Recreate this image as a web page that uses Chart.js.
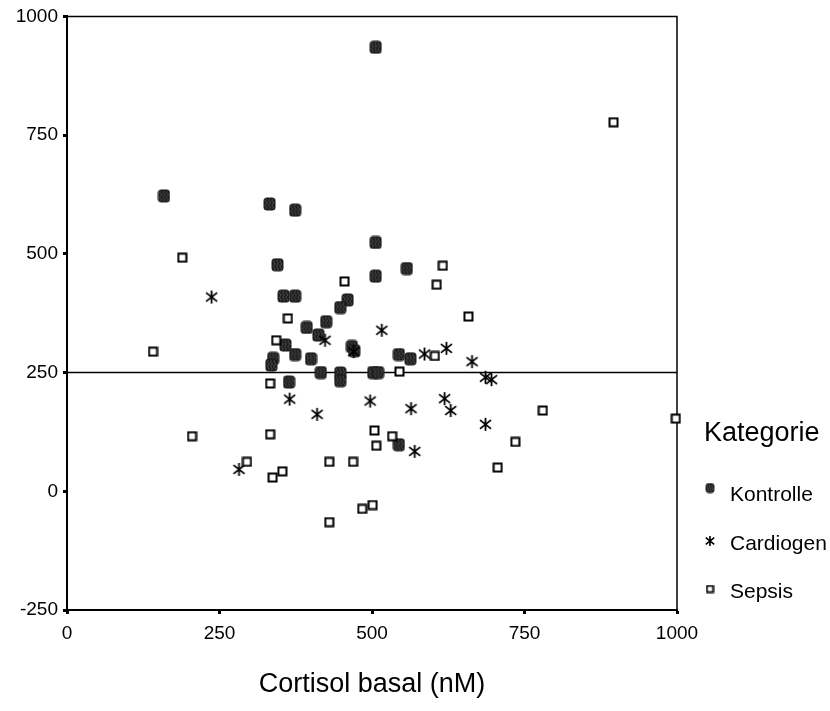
<!DOCTYPE html>
<html lang="de">
<head>
<meta charset="UTF-8">
<script src="https://cdn.jsdelivr.net/npm/chart.js"></script>
<title>Cortisol basal</title>
<style>
  html, body { margin: 0; padding: 0; background: #fff; }
  #wrap { width: 830px; height: 711px; }
</style>
</head>
<body>
<div id="wrap"><canvas id="chart" width="830" height="711"></canvas></div>
<script>
// Werte
const kategorien = ['Kontrolle', 'Cardiogen', 'Sepsis'];

const kontrolleX = [159, 332, 374, 506, 506, 345, 355, 374, 460, 448, 425, 393, 412, 358, 374, 400, 338, 335, 467, 471, 416, 448, 448, 364, 506, 557, 502, 510, 544, 563, 544];
const kontrolleY = [622, 605, 592, 935, 524, 477, 411, 411, 403, 387, 357, 345, 329, 308, 288, 279, 280, 266, 305, 296, 250, 249, 233, 230, 453, 469, 250, 250, 288, 279, 98];

const cardiogenX = [237, 423, 365, 410, 470, 516, 586, 622, 664, 686, 696, 497, 564, 619, 629, 686, 282, 570];
const cardiogenY = [409, 318, 194, 162, 294, 339, 289, 301, 273, 240, 235, 190, 174, 195, 170, 141, 46, 84];

const sepsisX = [896, 189, 141, 455, 362, 343, 333, 616, 606, 658, 603, 545, 780, 998, 205, 333, 295, 337, 353, 430, 469, 430, 484, 504, 507, 533, 501, 735, 706];
const sepsisY = [777, 492, 294, 442, 364, 318, 227, 475, 435, 368, 285, 252, 170, 153, 116, 120, 62, 29, 42, 62, 62, -65, -37, 128, 96, 116, -29, 104, 50];

const referenzY = 250;
const xTicks = [0, 250, 500, 750, 1000];
const yTicks = [-250, 0, 250, 500, 750, 1000];
const xTitel = 'Cortisol basal (nM)';
const legendeTitel = 'Kategorie';

const FONT = '"Liberation Sans", Arial, sans-serif';

function punkte(xs, ys) {
    return xs.map((x, i) => ({ x: x, y: ys[i] }));
}

// Marker: dunkles Kästchen mit Wellenlinien
function kontrolleMarker(w, h) {
    const c = document.createElement('canvas');
    c.width = w; c.height = h;
    const g = c.getContext('2d');
    g.fillStyle = '#1c1c1c';
    g.beginPath();
    g.roundRect(0.5, 0.5, w - 1, h - 1, 3.5);
    g.fill();
    g.strokeStyle = '#707070';
    g.lineWidth = 0.7;
    for (let k = 1; k <= 3; k++) {
        const cx = w * k / 4;
        g.beginPath();
        for (let yy = 2; yy <= h - 2; yy += 0.5) {
            const xx = cx + Math.sin(yy * 1.3) * 0.9;
            if (yy === 2) g.moveTo(xx, yy); else g.lineTo(xx, yy);
        }
        g.stroke();
    }
    return c;
}

// Marker: Sternchen
function sternMarker(s, lw) {
    const c = document.createElement('canvas');
    c.width = s; c.height = s;
    const g = c.getContext('2d');
    const m = s / 2, r = s / 2 - 1;
    g.strokeStyle = '#000';
    g.lineWidth = lw;
    g.beginPath();
    g.moveTo(m, m - r); g.lineTo(m, m + r);
    const d = r * 0.85;
    g.moveTo(m - d, m - d * 0.8); g.lineTo(m + d, m + d * 0.8);
    g.moveTo(m + d, m - d * 0.8); g.lineTo(m - d, m + d * 0.8);
    g.stroke();
    return c;
}

// Marker: offenes Quadrat
function quadratMarker(s, lw) {
    const c = document.createElement('canvas');
    c.width = s; c.height = s;
    const g = c.getContext('2d');
    g.fillStyle = '#fff';
    g.fillRect(1, 1, s - 2, s - 2);
    g.strokeStyle = '#000';
    g.lineWidth = lw;
    g.strokeRect(lw / 2 + 0.5, lw / 2 + 0.5, s - lw - 1, s - lw - 1);
    return c;
}

const marker = [kontrolleMarker(13, 14), sternMarker(15, 1.8), quadratMarker(11, 2)];
const legendeMarker = [kontrolleMarker(10, 11), sternMarker(12, 1.6), quadratMarker(9, 1.8)];

const rahmenPlugin = {
    id: 'rahmen',
    beforeDatasetsDraw(chart) {
        const a = chart.chartArea, ctx = chart.ctx;
        ctx.save();
        ctx.strokeStyle = '#000';
        ctx.lineWidth = 1.5;
        ctx.beginPath();
        ctx.moveTo(a.left, a.top);
        ctx.lineTo(a.right, a.top);
        ctx.lineTo(a.right, a.bottom);
        ctx.stroke();
        ctx.restore();
    }
};

const legendePlugin = {
    id: 'legende',
    afterDraw(chart) {
        const ctx = chart.ctx;
        ctx.save();
        ctx.fillStyle = '#000';
        ctx.textBaseline = 'middle';
        ctx.textAlign = 'left';
        ctx.font = '27px ' + FONT;
        ctx.fillText(legendeTitel, 704, 434);
        ctx.font = '21px ' + FONT;
        const zeilen = [[488, 495], [541, 544], [589, 592]];
        kategorien.forEach((name, i) => {
            const img = legendeMarker[i];
            ctx.drawImage(img, 710 - img.width / 2, zeilen[i][0] - img.height / 2);
            ctx.fillText(name, 730, zeilen[i][1]);
        });
        ctx.restore();
    }
};

new Chart(document.getElementById('chart'), {
    type: 'scatter',
    data: {
        datasets: [
            {
                label: kategorien[2],
                data: punkte(sepsisX, sepsisY),
                pointStyle: marker[2],
                order: 1
            },
            {
                label: kategorien[1],
                data: punkte(cardiogenX, cardiogenY),
                pointStyle: marker[1],
                order: 2
            },
            {
                label: kategorien[0],
                data: punkte(kontrolleX, kontrolleY),
                pointStyle: marker[0],
                order: 3
            },
            {
                type: 'line',
                label: 'ref',
                data: [{ x: xTicks[0], y: referenzY }, { x: xTicks[xTicks.length - 1], y: referenzY }],
                borderColor: '#000',
                borderWidth: 1.5,
                pointRadius: 0,
                order: 4
            }
        ]
    },
    options: {
        responsive: false,
        animation: false,
        clip: false,
        layout: { padding: { top: 15, right: 153, left: 0, bottom: 0 } },
        plugins: {
            legend: { display: false },
            tooltip: { enabled: false }
        },
        scales: {
            x: {
                type: 'linear',
                min: xTicks[0],
                max: xTicks[xTicks.length - 1],
                afterBuildTicks(scale) { scale.ticks = xTicks.map(v => ({ value: v })); },
                afterFit(scale) { scale.height = 101; },
                grid: { drawOnChartArea: false, color: '#000', tickLength: 4, tickWidth: 3 },
                border: { color: '#000', width: 2 },
                ticks: {
                    color: '#000',
                    font: { family: FONT, size: 19 },
                    padding: 8,
                    callback: v => String(v)
                },
                title: {
                    display: true,
                    text: xTitel,
                    color: '#000',
                    font: { family: FONT, size: 27 },
                    padding: { top: 0, bottom: 10 }
                }
            },
            y: {
                type: 'linear',
                min: yTicks[0],
                max: yTicks[yTicks.length - 1],
                afterBuildTicks(scale) { scale.ticks = yTicks.map(v => ({ value: v })); },
                afterFit(scale) { scale.width = 67; },
                grid: { drawOnChartArea: false, color: '#000', tickLength: 4, tickWidth: 3 },
                border: { color: '#000', width: 2 },
                ticks: {
                    color: '#000',
                    font: { family: FONT, size: 19 },
                    padding: 5,
                    callback: v => String(v)
                }
            }
        }
    },
    plugins: [rahmenPlugin, legendePlugin]
});
</script>
</body>
</html>
